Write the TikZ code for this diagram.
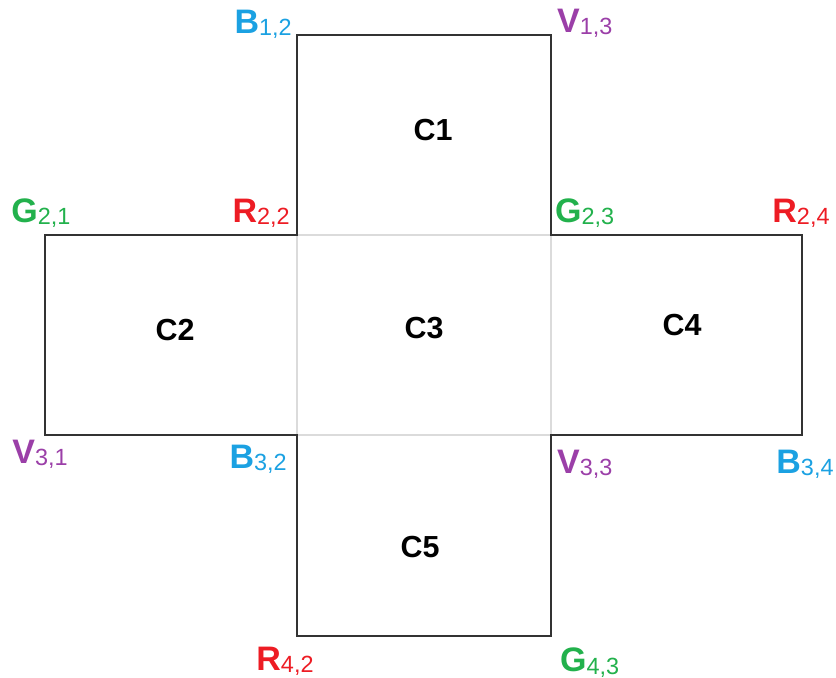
\documentclass[tikz,border=0pt]{standalone}
\usepackage{fontspec}
\setmainfont{Liberation Sans}
\usetikzlibrary{positioning}

\definecolor{vblue}{HTML}{1BA1E2}
\definecolor{vpurple}{HTML}{9B3FA8}
\definecolor{vgreen}{HTML}{22B14C}
\definecolor{vred}{HTML}{ED1C24}

\newcommand{\vtx}[2]{\textbf{#1}\raisebox{-2pt}{\fontsize{20}{21}\selectfont #2}}

\begin{document}
\begin{tikzpicture}[
    x=0.03cm, y=-0.03cm,
    vlabel/.style={inner sep=0pt, font=\fontsize{29}{31}\selectfont},
    bluelabel/.style={vlabel, text=vblue},
    purplelabel/.style={vlabel, text=vpurple},
    greenlabel/.style={vlabel, text=vgreen},
    redlabel/.style={vlabel, text=vred},
    cellname/.style={inner sep=0pt, font=\fontsize{26}{28}\selectfont\bfseries},
    outline/.style={draw=black!80, line width=2.5pt, line join=miter},
    innerline/.style={draw=black!14, line width=1.5pt}
]

\useasboundingbox (0,0) rectangle (836,678);

% Corners of the cross
\coordinate (a) at (297,35);
\coordinate (b) at (551,35);
\coordinate (c) at (45,235);
\coordinate (d) at (297,235);
\coordinate (e) at (551,235);
\coordinate (f) at (802,235);
\coordinate (g) at (45,435);
\coordinate (h) at (297,435);
\coordinate (i) at (551,435);
\coordinate (j) at (802,435);
\coordinate (k) at (297,636);
\coordinate (l) at (551,636);

% Middle cell
\draw[innerline] (d) -- (e) -- (i) -- (h) -- cycle;

% Outline
\draw[outline] (a) -- (b) -- (e) -- (f) -- (j) -- (i) -- (l) -- (k) -- (h) -- (g) -- (c) -- (d) -- cycle;

% Cell names
\node[cellname] (C1) at (433,130) {C1};
\node[cellname] (C2) at (175,330) {C2};
\node[cellname] (C3) at (424,328) {C3};
\node[cellname] (C4) at (682,325) {C4};
\node[cellname] (C5) at (420,547) {C5};

% Corner labels
\node[bluelabel, anchor=south east]   (B12) at ([shift={(-5,4)}]a)  {\vtx{B}{1,2}};
\node[purplelabel, anchor=south west] (V13) at ([shift={(6,3)}]b)   {\vtx{V}{1,3}};
\node[greenlabel, anchor=south]       (G21) at ([shift={(-4,-7)}]c) {\vtx{G}{2,1}};
\node[redlabel, anchor=south east]    (R22) at ([shift={(-7,-7)}]d) {\vtx{R}{2,2}};
\node[greenlabel, anchor=south west]  (G23) at ([shift={(4,-7)}]e)  {\vtx{G}{2,3}};
\node[redlabel, anchor=south]         (R24) at ([shift={(-1,-7)}]f) {\vtx{R}{2,4}};
\node[purplelabel, anchor=north]      (V31) at ([shift={(-5,5)}]g)  {\vtx{V}{3,1}};
\node[bluelabel, anchor=north east]   (B32) at ([shift={(-10,10)}]h) {\vtx{B}{3,2}};
\node[purplelabel, anchor=north west] (V33) at ([shift={(6,15)}]i)  {\vtx{V}{3,3}};
\node[bluelabel, anchor=north]        (B34) at ([shift={(3,15)}]j)  {\vtx{B}{3,4}};
\node[redlabel, anchor=north]         (R42) at ([shift={(-12,11)}]k) {\vtx{R}{4,2}};
\node[greenlabel, anchor=north west]  (G43) at ([shift={(9,12)}]l)  {\vtx{G}{4,3}};

\end{tikzpicture}
\end{document}
